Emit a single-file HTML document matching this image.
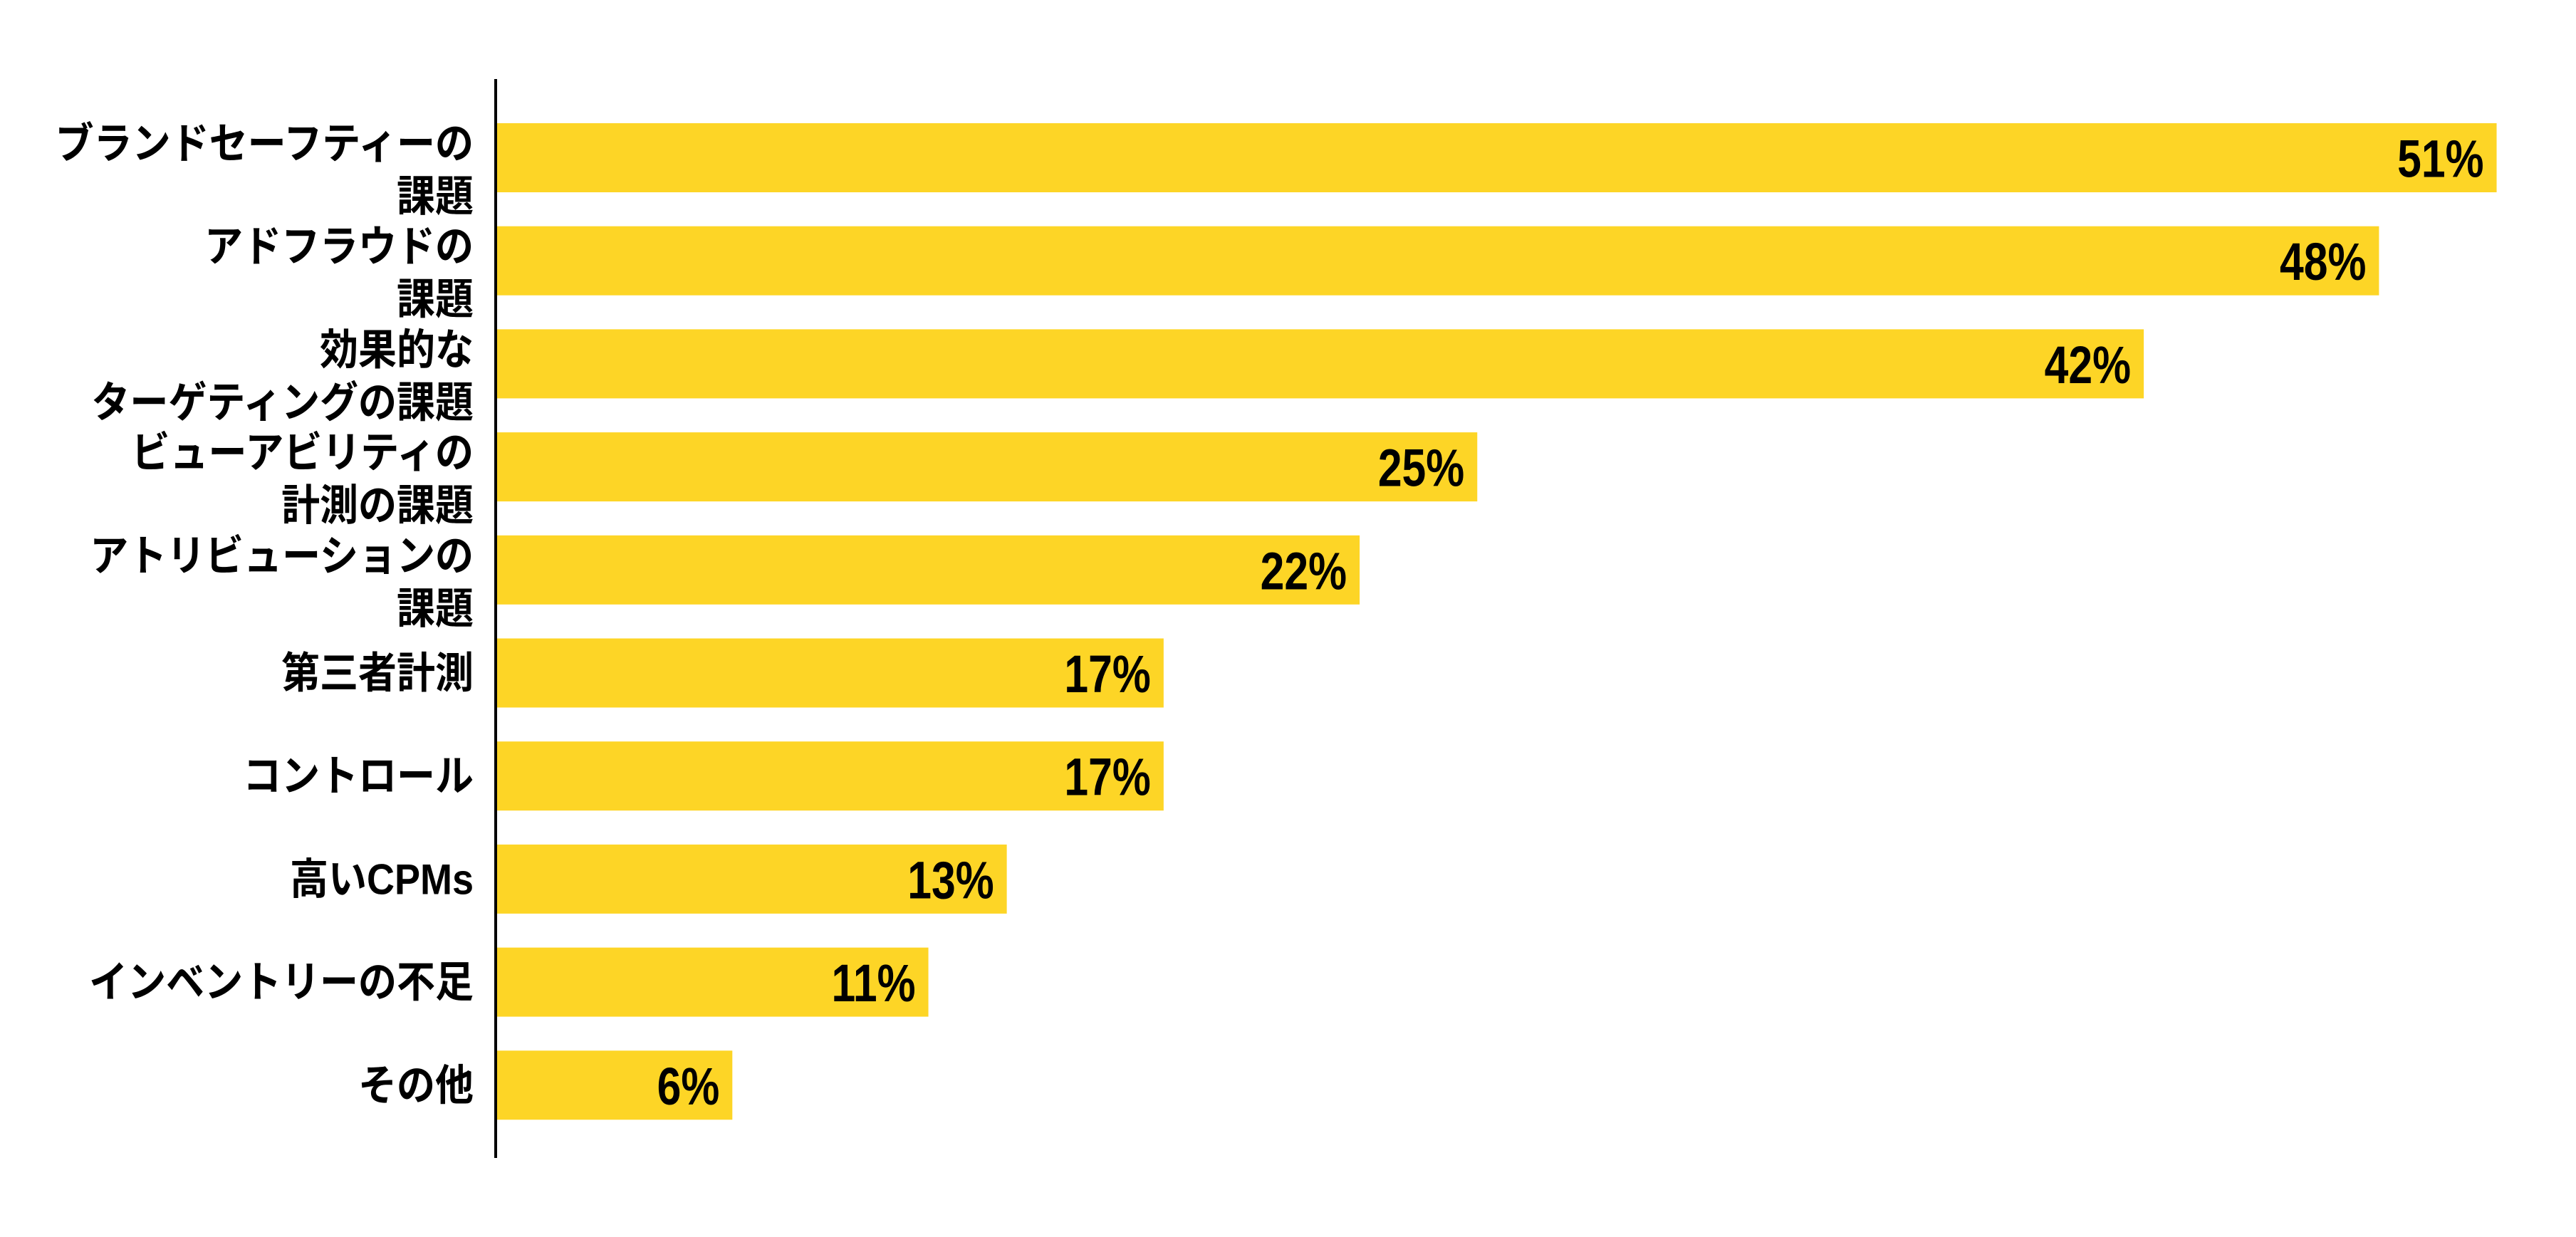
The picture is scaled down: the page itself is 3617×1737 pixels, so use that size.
<!DOCTYPE html>
<html><head><meta charset="utf-8"><style>
html,body{margin:0;padding:0;background:#fff;}
svg{display:block;}
.lbl{font-family:"Liberation Sans","Noto Sans CJK JP",sans-serif;font-weight:bold;font-size:60px;fill:#000;}
.val{font-family:"Liberation Sans",sans-serif;font-weight:bold;font-size:74px;fill:#000;}
</style></head><body>
<svg id="chart" width="3617" height="1737" viewBox="0 0 3617 1737" xmlns="http://www.w3.org/2000/svg">
<rect width="3617" height="1737" fill="#fff"/>
<g id="bars"></g>
<g id="labels"></g>
<line x1="696" y1="111" x2="696" y2="1626" stroke="#000" stroke-width="4"/>
</svg>
<script>
const categories = [
  ["ブランドセーフティーの","課題"],
  ["アドフラウドの","課題"],
  ["効果的な","ターゲティングの課題"],
  ["ビューアビリティの","計測の課題"],
  ["アトリビューションの","課題"],
  ["第三者計測"],
  ["コントロール"],
  ["高いCPMs"],
  ["インベントリーの不足"],
  ["その他"]
];
const values = [51, 48, 42, 25, 22, 17, 17, 13, 11, 6];
const valueLabels = ["51%","48%","42%","25%","22%","17%","17%","13%","11%","6%"];

const NS = "http://www.w3.org/2000/svg";
const x0 = 698, pxPerPct = 55.05;
const top0 = 173, pitch = 144.7, barH = 97;
function xScale(v){ return x0 + v * pxPerPct; }
function yScale(i){ return top0 + i * pitch; }
const barsG = document.getElementById("bars");
const labelsG = document.getElementById("labels");
values.forEach((v, i) => {
  const y = yScale(i);
  const r = document.createElementNS(NS, "rect");
  r.setAttribute("x", x0);
  r.setAttribute("y", y);
  r.setAttribute("width", xScale(v) - x0);
  r.setAttribute("height", barH);
  r.setAttribute("fill", "#FDD526");
  
  
  barsG.appendChild(r);

  const cy = y + barH / 2;
  const g = document.createElementNS(NS, "g");
  g.setAttribute("transform", "translate(" + (xScale(v) - 18) + "," + (cy + 27) + ") scale(0.82,1)");
  const t = document.createElementNS(NS, "text");
  t.setAttribute("class", "val");
  t.setAttribute("text-anchor", "end");
  t.textContent = valueLabels[i];
  
  
  g.appendChild(t);
  barsG.appendChild(g);

  const lines = categories[i];
  const offs = lines.length === 2 ? [-20, 54] : [0];
  lines.forEach((ln, k) => {
    const lg = document.createElementNS(NS, "g");
    lg.setAttribute("transform", "translate(665," + (cy + offs[k] + 21) + ") scale(0.9,1)");
    const lt = document.createElementNS(NS, "text");
    lt.setAttribute("class", "lbl");
    lt.setAttribute("text-anchor", "end");
    lt.textContent = ln;
    
    
    lg.appendChild(lt);
    labelsG.appendChild(lg);
  });
});
</script>
</body></html>
